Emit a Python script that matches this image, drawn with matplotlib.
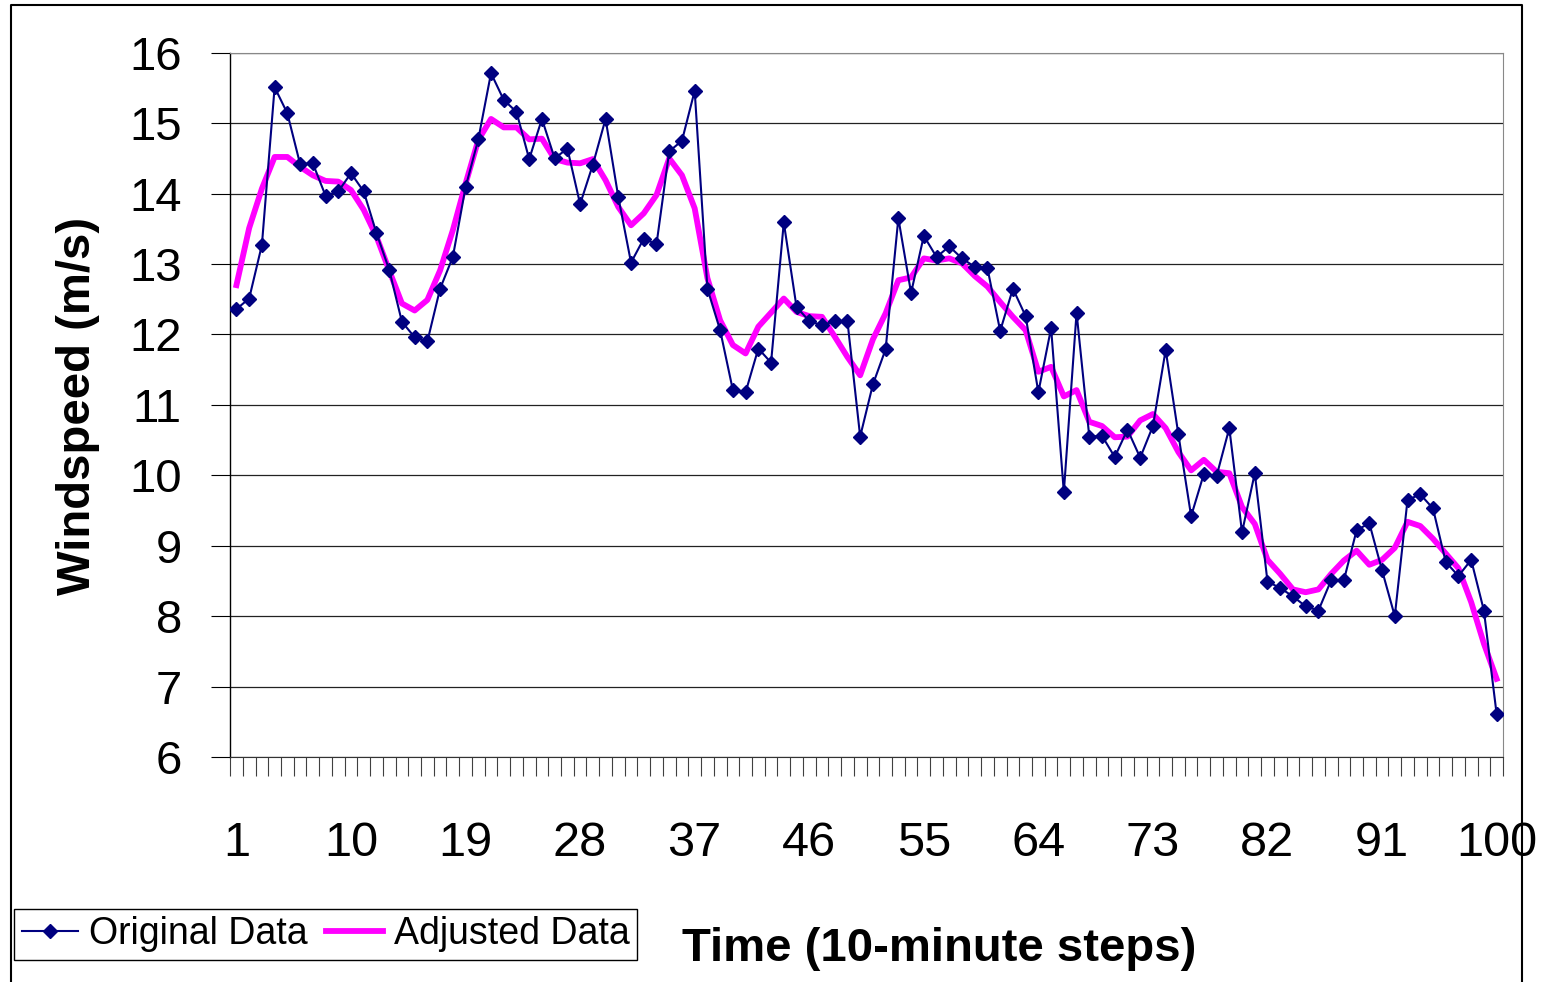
import matplotlib.pyplot as plt
import numpy as np
from matplotlib.lines import Line2D
from matplotlib.ticker import FixedLocator

plt.rcParams.update({"font.family": "Liberation Sans"})

# Windspeed series, one value per 10-minute step
steps = np.arange(1, 101)
original = [
    12.36, 12.51, 13.27, 15.51, 15.14, 14.42, 14.43, 13.97, 14.03, 14.29,
    14.03, 13.44, 12.92, 12.18, 11.96, 11.90, 12.65, 13.10, 14.09, 14.77,
    15.71, 15.33, 15.16, 14.49, 15.06, 14.50, 14.64, 13.85, 14.41, 15.06,
    13.95, 13.02, 13.36, 13.28, 14.60, 14.75, 15.46, 12.65, 12.06, 11.21,
    11.18, 11.80, 11.60, 13.59, 12.39, 12.19, 12.13, 12.19, 12.19, 10.55,
    11.29, 11.79, 13.65, 12.59, 13.40, 13.10, 13.25, 13.08, 12.96, 12.94,
    12.05, 12.65, 12.26, 11.18, 12.09, 9.76, 12.31, 10.55, 10.56, 10.26,
    10.65, 10.25, 10.70, 11.78, 10.58, 9.42, 10.02, 9.99, 10.67, 9.19,
    10.03, 8.49, 8.40, 8.28, 8.14, 8.08, 8.51, 8.51, 9.22, 9.32,
    8.65, 8.00, 9.65, 9.73, 9.53, 8.77, 8.57, 8.80, 8.08, 6.61,
]
adjusted = [
    12.70, 13.51, 14.07, 14.52, 14.52, 14.38, 14.26, 14.18, 14.17, 14.05,
    13.77, 13.39, 12.91, 12.44, 12.34, 12.49, 12.91, 13.48, 14.14, 14.76,
    15.06, 14.94, 14.94, 14.77, 14.78, 14.49, 14.44, 14.43, 14.49, 14.19,
    13.81, 13.55, 13.72, 13.98, 14.50, 14.26, 13.79, 12.80, 12.20, 11.85,
    11.73, 12.11, 12.31, 12.51, 12.32, 12.26, 12.25, 11.97, 11.68, 11.42,
    11.93, 12.30, 12.77, 12.81, 13.08, 13.05, 13.08, 13.01, 12.83, 12.68,
    12.46, 12.25, 12.06, 11.47, 11.54, 11.12, 11.21, 10.76, 10.70, 10.54,
    10.55, 10.78, 10.87, 10.67, 10.33, 10.07, 10.22, 10.05, 10.03, 9.55,
    9.31, 8.80, 8.60, 8.38, 8.34, 8.38, 8.60, 8.79, 8.93, 8.73,
    8.80, 8.97, 9.34, 9.28, 9.10, 8.89, 8.68, 8.20, 7.61, 7.11,
]
x_tick_steps = list(range(1, 101, 9))
y_ticks = list(range(6, 17))

fig = plt.figure(figsize=(15.42, 9.82), dpi=100)
ax = fig.add_axes([0.1492, 0.2291, 0.8255, 0.7172])

ax.plot(steps, adjusted, color="#FF00FF", lw=4.2, label="Adjusted Data", zorder=3)
ax.plot(steps, original, color="#000080", lw=1.5, marker="D", ms=7.3,
        label="Original Data", zorder=4)

ax.set_xlim(0.5, 100.5)
ax.set_ylim(6, 16)
ax.set_yticks(y_ticks)
ax.set_xticks(x_tick_steps)
# category separators along the bottom axis
ax.xaxis.set_minor_locator(FixedLocator(np.arange(0.5, 101, 1)))
ax.tick_params(axis="x", which="major", length=0, pad=46, labelsize=35)
ax.tick_params(axis="x", which="minor", length=13.7, width=0.8,
               color="#404040", direction="out")
ax.tick_params(axis="y", length=13.7, width=0.8, pad=21, labelsize=34,
               direction="out")
ax.grid(axis="y", color="#222222", lw=0.9)
ax.set_axisbelow(True)

ax.spines["left"].set_color("black")
ax.spines["left"].set_linewidth(1.0)
ax.spines["bottom"].set_color("#333333")
ax.spines["bottom"].set_linewidth(0.8)
for side in ("top", "right"):
    ax.spines[side].set_color("#888888")
    ax.spines[side].set_linewidth(0.8)

ax.set_xlabel("Time (10-minute steps)", fontsize=34, fontweight="bold",
              va="baseline")
ax.xaxis.set_label_coords(939 / 1542, 1 - 961 / 982, transform=fig.transFigure)
ax.set_ylabel("Windspeed (m/s)", fontsize=34, fontweight="bold", va="center")
ax.yaxis.set_label_coords(78 / 1542, 1 - 406 / 982, transform=fig.transFigure)

handles, labels = ax.get_legend_handles_labels()
leg = fig.legend(
    handles[::-1],
    labels[::-1],
    loc="lower left",
    bbox_to_anchor=(14 / 1542, 1 - 960 / 982),
    ncol=2,
    fontsize=27,
    frameon=True,
    fancybox=False,
    edgecolor="black",
    framealpha=1,
    borderaxespad=0,
    handlelength=1.5,
    handletextpad=0.3,
    columnspacing=0.5,
    borderpad=0.2,
)
leg.get_frame().set_linewidth(1.0)

# outer chart border
fig.add_artist(
    Line2D(
        [11 / 1542, 11 / 1542, 1522 / 1542, 1522 / 1542],
        [0, 1 - 5 / 982, 1 - 5 / 982, 0],
        transform=fig.transFigure,
        color="black",
        lw=1.5,
        zorder=10,
    )
)

fig.savefig("out.png", dpi=100)
plt.close(fig)
